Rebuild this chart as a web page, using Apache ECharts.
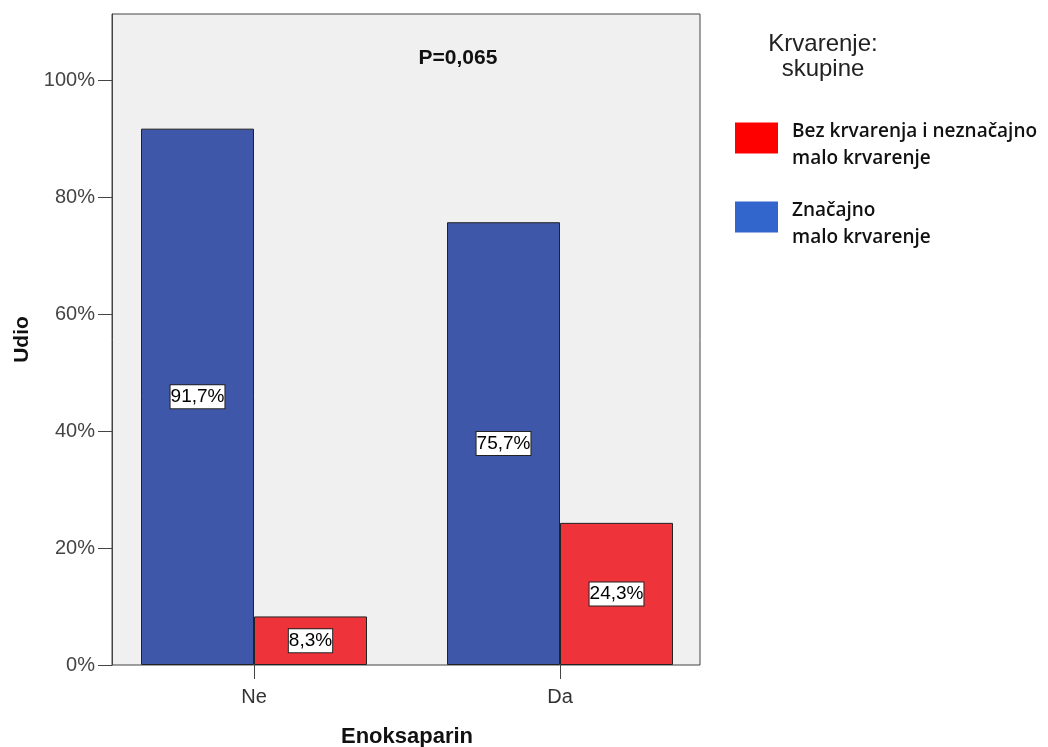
<!DOCTYPE html>
<html>
<head>
<meta charset="utf-8">
<script src="https://cdn.jsdelivr.net/npm/echarts@6/dist/echarts.min.js"></script>
<style>html,body{margin:0;padding:0;background:#fff;}#c{width:1048px;height:747px;}</style>
</head>
<body>
<div id="c"></div>
<script>
const categories = ['Ne', 'Da'];
const seriesNames = ['Značajno\nmalo krvarenje', 'Bez krvarenja i neznačajno\nmalo krvarenje'];
const valuesZnacajno = [91.7, 75.7];
const valuesBez = [8.3, 24.3];
const yTicks = [0, 20, 40, 60, 80, 100];
const pText = 'P=0,065';
const legendTitle = 'Krvarenje:\nskupine';

const chart = echarts.init(document.getElementById('c'), null, {renderer: 'canvas'});
const FF = 'Liberation Sans, Arial, sans-serif';
const fmtPct = v => String(v).replace('.', ',') + '%';
const labelStyle = {
  show: true, position: 'inside', color: '#000', fontSize: 19, lineHeight: 22,
  fontFamily: FF,
  backgroundColor: '#fff', borderColor: '#222', borderWidth: 1,
  padding: [1, 0, 0, 0],
  formatter: p => fmtPct(p.value)
};
const yMax = 111.3;
// legend swatch: 43x31 rectangle sitting in the upper part of a 43x45 icon box
const swatch = 'path://M0,0h43v31h-43z M0,45h0.01';
chart.setOption({
  animation: false,
  backgroundColor: '#fff',
  title: [
    {text: pText, left: 453, top: 43, textAlign: 'center',
     textStyle: {fontSize: 21, fontWeight: 'bold', color: '#111', fontFamily: FF}},
    {text: legendTitle, left: 818, top: 27, textAlign: 'center',
     textStyle: {fontSize: 24, fontWeight: 'normal', color: '#222', lineHeight: 25, fontFamily: FF}}
  ],
  legend: {
    orient: 'vertical', left: 730, top: 113,
    itemWidth: 43, itemHeight: 45, itemGap: 25,
    icon: swatch,
    textStyle: {fontSize: 19, fontWeight: 600, color: '#111', lineHeight: 27, padding: [0, 0, 0, 9], fontFamily: 'Open Sans, sans-serif'},
    data: [
      {name: seriesNames[1], itemStyle: {color: '#ff0000', borderWidth: 0}},
      {name: seriesNames[0], itemStyle: {color: '#3366cc', borderWidth: 0}}
    ]
  },
  grid: [
    {left: 112, right: 348, top: 14, bottom: 82, outerBoundsMode: 'none', show: true, backgroundColor: '#f0f0f0', borderColor: '#444', borderWidth: 1, z: 0},
    {left: 101, right: 335, top: 14, bottom: 82, outerBoundsMode: 'none', show: false}
  ],
  xAxis: [
    {gridIndex: 0, type: 'value', min: 0, max: 1, show: false},
    {gridIndex: 1, type: 'category', data: categories,
     axisLine: {show: false},
     axisTick: {show: true, alignWithLabel: true, length: 14, lineStyle: {color: '#444'}},
     axisLabel: {fontSize: 20, color: '#333', margin: 22, fontFamily: FF},
     name: 'Enoksaparin', nameLocation: 'middle', nameGap: 61,
     nameTextStyle: {fontSize: 22, fontWeight: 'bold', color: '#111', fontFamily: FF}}
  ],
  yAxis: [
    {gridIndex: 0, type: 'value', min: 0, max: yMax, interval: 20,
     axisLine: {show: true, lineStyle: {color: '#444'}},
     axisTick: {show: true, length: 14, lineStyle: {color: '#444'}, customValues: yTicks},
     axisLabel: {fontSize: 20, color: '#444', margin: 17, fontFamily: FF,
       customValues: yTicks, formatter: '{value}%'},
     splitLine: {show: false},
     name: 'Udio', nameLocation: 'middle', nameGap: 78, nameRotate: 90,
     nameTextStyle: {fontSize: 21, fontWeight: 'bold', color: '#111', fontFamily: FF}},
    {gridIndex: 1, type: 'value', min: 0, max: yMax, show: false, splitLine: {show: false}}
  ],
  series: [
    {name: seriesNames[0], type: 'bar', xAxisIndex: 1, yAxisIndex: 1, data: valuesZnacajno,
     barWidth: 113, barGap: '0%',
     itemStyle: {color: '#3f57a8', borderColor: '#222', borderWidth: 1},
     label: labelStyle},
    {name: seriesNames[1], type: 'bar', xAxisIndex: 1, yAxisIndex: 1, data: valuesBez,
     barWidth: 113, barGap: '0%',
     itemStyle: {color: '#ef333b', borderColor: '#222', borderWidth: 1},
     label: labelStyle}
  ]
});
</script>
</body>
</html>
